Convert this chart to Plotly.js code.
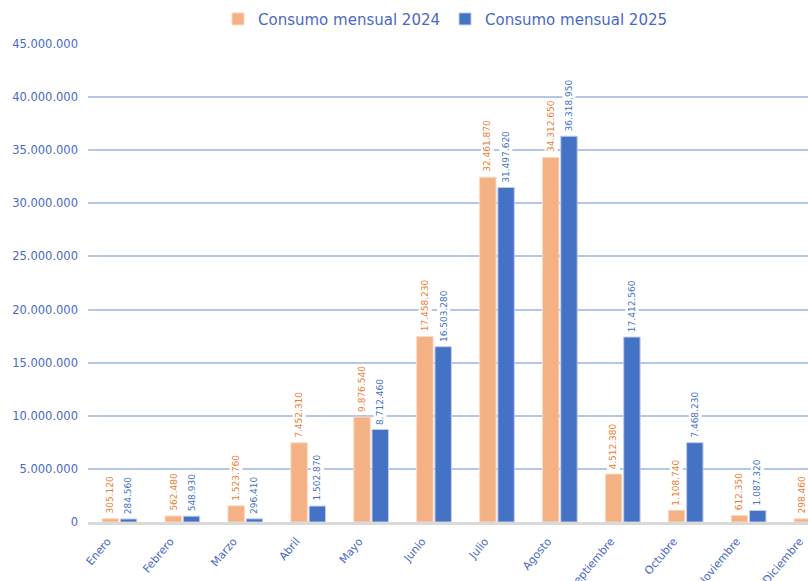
<!DOCTYPE html>
<html>
<head>
<meta charset="utf-8">
<script src="https://cdn.plot.ly/plotly-3.0.1.min.js"></script>
<style>
html, body { margin: 0; padding: 0; overflow: hidden; background: #ffffff; }
#chart { width: 900px; height: 581px; }
</style>
</head>
<body>
<div id="chart"></div>
<script>
// ---- Data ----
const months = ["Enero", "Febrero", "Marzo", "Abril", "Mayo", "Junio", "Julio", "Agosto", "Septiembre", "Octubre", "Noviembre", "Diciembre"];
const consumo2024 = [305120, 562480, 1523760, 7452310, 9876540, 17458230, 32461870, 34312650, 4512380, 1108740, 612350, 298460];
const consumo2025 = [284560, 548930, 296410, 1502870, 8712460, 16503280, 31497620, 36318950, 17412560, 7468230, 1087320, null];
const seriesNames = ["Consumo mensual 2024", "Consumo mensual 2025"];
const yTickValues = [0, 5000000, 10000000, 15000000, 20000000, 25000000, 30000000, 35000000, 40000000, 45000000];

// ---- Styles ----
const orange = "#F4B183";
const blue = "#4472C4";
const textBlue = "#4a69c6";
const font = "DejaVu Sans, sans-serif";

function fmt(v) {
  return String(Math.round(v)).replace(/\B(?=(\d{3})+(?!\d))/g, ".");
}

const traces = [
  {
    type: "bar", name: seriesNames[0], x: months, y: consumo2024,
    marker: { color: orange, line: { color: "#fbd9c3", width: 1 } },
    hoverinfo: "skip"
  },
  {
    type: "bar", name: seriesNames[1], x: months, y: consumo2025,
    marker: { color: blue, line: { color: "#c3cde9", width: 1 } },
    hoverinfo: "skip"
  }
];

const annotations = [];
function addLabels(values, shift, color) {
  values.forEach((v, i) => {
    if (v === null || v === undefined) return;
    annotations.push({
      x: months[i], y: v, xref: "x", yref: "y",
      text: fmt(v), showarrow: false, textangle: -90,
      xanchor: "center", yanchor: "bottom",
      xshift: shift, yshift: 3,
      bgcolor: "#ffffff", borderpad: 1,
      font: { family: font, size: 9, color: color }
    });
  });
}
addLabels(consumo2024, -9.3, "#ED7D31");
addLabels(consumo2025, 9.3, blue);

const layout = {
  width: 900, height: 581,
  margin: { l: 88, r: 57, t: 44, b: 59, autoexpand: false },
  paper_bgcolor: "#ffffff", plot_bgcolor: "#ffffff",
  separators: ",.",
  barmode: "group", bargap: 0.42, bargroupgap: 0.1,
  showlegend: true,
  legend: {
    orientation: "h", x: 0.495, xref: "container", xanchor: "center",
    y: 0.967, yref: "container", yanchor: "middle",
    font: { family: font, size: 15, color: textBlue },
    bgcolor: "rgba(0,0,0,0)"
  },
  xaxis: {
    type: "category",
    showgrid: false, zeroline: false,
    showline: true, linecolor: "#d9d9d9", linewidth: 2.5,
    ticks: "", tickangle: -50,
    ticklabelshift: -12, ticklabelstandoff: 6,
    tickfont: { family: font, size: 11, color: textBlue }
  },
  yaxis: {
    range: [0, 45000000],
    tickvals: yTickValues,
    tickformat: ",d",
    showgrid: true, gridcolor: "#b4c7e7", gridwidth: 2,
    zeroline: false, showline: false,
    ticks: "", ticklabelstandoff: 9,
    tickfont: { family: font, size: 11.5, color: textBlue }
  },
  annotations: annotations
};

Plotly.newPlot("chart", traces, layout, { displayModeBar: false, staticPlot: true });
</script>
</body>
</html>
